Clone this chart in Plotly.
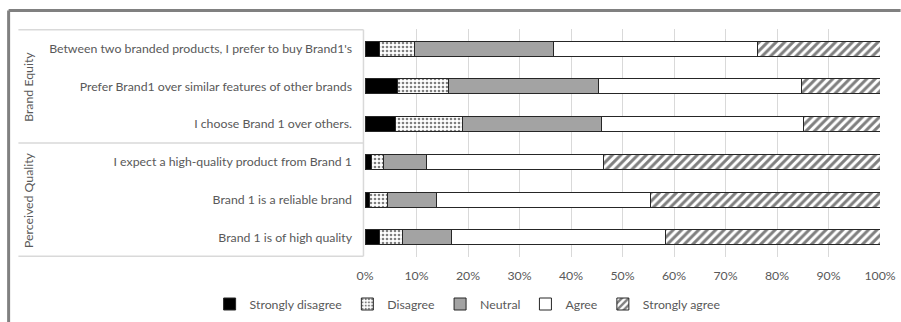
import plotly.graph_objects as go

# Survey statements, listed top to bottom
statements = [
    "Between two branded products, I prefer to buy Brand1's",
    "Prefer Brand1 over similar features of other brands",
    "I choose Brand 1 over others.",
    "I expect a high-quality product from Brand 1",
    "Brand 1 is a reliable brand",
    "Brand 1 is of high quality",
]
groups = ["Brand Equity", "Perceived Quality"]

# Share of responses (%) per statement
strongly_disagree = [2.8, 6.4, 5.9, 1.2, 0.9, 2.9]
disagree = [6.8, 9.9, 13.1, 2.4, 3.4, 4.4]
neutral = [27.0, 29.0, 27.0, 8.4, 9.6, 9.5]
agree = [39.7, 39.5, 39.1, 34.4, 41.6, 41.6]
strongly_agree = [23.7, 15.2, 14.9, 53.6, 44.5, 41.6]

x_ticks = [0, 10, 20, 30, 40, 50, 60, 70, 80, 90, 100]
x_tick_labels = [f"{v}%" for v in x_ticks]

FONT = "Lato, 'Open Sans', sans-serif"
TEXT = "#595959"
EDGE = "#262626"
FS = 12.3

series = [
    ("Strongly disagree", strongly_disagree, dict(color="#000000")),
    ("Disagree", disagree, dict(color="#ffffff",
                                pattern=dict(shape=".", fgcolor="#000000", bgcolor="#ffffff",
                                             size=4, solidity=0.35))),
    ("Neutral", neutral, dict(color="#a3a3a3")),
    ("Agree", agree, dict(color="#ffffff")),
    ("Strongly agree", strongly_agree, dict(color="#ffffff",
                                            pattern=dict(shape="/", fgcolor="#000000", bgcolor="#ffffff",
                                                         size=6, solidity=0.5))),
]

fig = go.Figure()
for name, vals, marker in series:
    marker = dict(marker)
    marker["line"] = dict(color=EDGE, width=1)
    fig.add_trace(go.Bar(
        name=name, x=vals, y=statements, orientation="h",
        marker=marker, width=0.4,
    ))

fig.update_layout(
    width=901, height=322,
    margin=dict(l=364.5, r=20.5, t=29, b=65, autoexpand=False),
    barmode="stack",
    plot_bgcolor="white", paper_bgcolor="white",
    font=dict(family=FONT, size=FS, color=TEXT),
    showlegend=True,
    legend=dict(orientation="h", x=0.519, xref="container", xanchor="center",
                y=18.0 / 322, yref="container", yanchor="middle",
                font=dict(size=FS, color=TEXT), itemwidth=30, traceorder="normal",
                bgcolor="rgba(0,0,0,0)"),
)
fig.update_xaxes(
    range=[0, 100], tickvals=x_ticks, ticktext=x_tick_labels,
    showgrid=True, gridcolor="#d9d9d9", gridwidth=1, zeroline=False,
    showline=False, ticks="", tickfont=dict(size=FS, color=TEXT),
    automargin=False, ticklabelstandoff=10,
)
fig.update_yaxes(
    categoryorder="array", categoryarray=statements, autorange="reversed",
    showgrid=False, zeroline=False, showline=False, ticks="",
    ticklabelstandoff=12, tickfont=dict(size=FS, color=TEXT), automargin=False,
)

# Label table around the statements, split into the two construct groups
line_col = "#d9d9d9"
for yb in [-0.5, 2.5, 5.5]:
    fig.add_shape(type="line", xref="paper", yref="y", x0=-0.673, x1=-0.003,
                  y0=yb, y1=yb, line=dict(color=line_col, width=1.5))
fig.add_shape(type="line", xref="paper", yref="y", x0=-0.003, x1=-0.003,
              y0=-0.5, y1=5.5, line=dict(color=line_col, width=1.5))

for gname, yc in zip(groups, [1, 4]):
    fig.add_annotation(text=gname, xref="paper", yref="y", x=-0.6535, y=yc,
                       xanchor="center", yanchor="middle",
                       textangle=-90, showarrow=False, font=dict(size=FS, color=TEXT))

# Outer frame (left and top edges)
fig.add_shape(type="line", xref="paper", yref="paper",
              x0=-0.692, x1=-0.692, y0=1.081, y1=-0.29, line=dict(color="#808080", width=3))
fig.add_shape(type="line", xref="paper", yref="paper",
              x0=-0.692, x1=1.04, y0=1.081, y1=1.081, line=dict(color="#808080", width=3))

fig.write_html("out.html")
